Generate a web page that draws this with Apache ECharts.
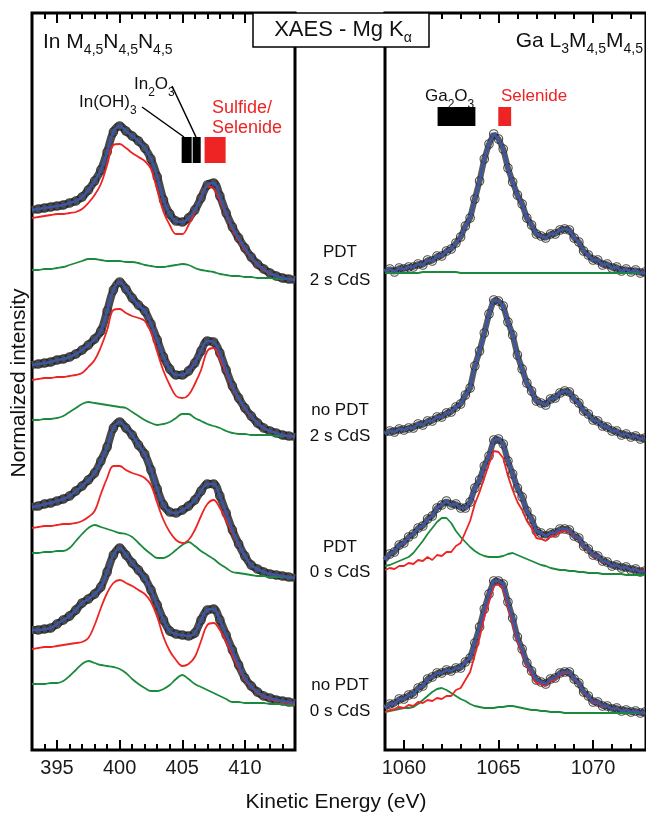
<!DOCTYPE html>
<html><head><meta charset="utf-8">
<script src="https://cdn.jsdelivr.net/npm/echarts@6/dist/echarts.min.js"></script>
<style>html,body{margin:0;padding:0;background:#fff}#c{width:646px;height:815px}</style>
</head><body><div id="c"></div>
<script>
// ---------- In M4,5N4,5N4,5 panel (kinetic energy, eV) ----------
const energyIn = [393,393.5,394,394.5,395,395.5,396,396.5,397,397.5,398,398.5,399,399.5,400,400.5,401,401.5,402,402.5,403,403.5,404,404.5,405,405.5,406,406.5,407,407.5,408,408.5,409,409.5,410,410.5,411,411.5,412,412.5,413,413.5,414];
// sample 1: PDT, 2 s CdS
const in1Data  = [70,71,72,73,74,75,77,79,83,90,99,110,128,148,154,149,144,139,132,121,103,80,66,59,58,62,70,82,95,97,84,67,53,42,32,23,16,11,7,4,2,1,0];
const in1Sel   = [62,63,64,65,66,66,67,68,71,77,85,96,115,135,136,132,127,123,119,111,90,68,55,46,46,55,68,84,94,91,80,65,51,40,30,22,15,10,6,4,2,1,0];
const in1Oxi   = [10,10,11,11,12,13,15,17,19,21,21,20,19,19,19,18,18,17,15,14,13,13,14,15,16,15,12,10,9,8,6,5,4,4,3,3,2,2,2,1,1,1,1];
// sample 2: no PDT, 2 s CdS
const in2Data  = [72,73,74,75,77,78,80,83,87,92,98,106,126,147,155,148,139,132,126,113,97,80,68,62,62,66,74,86,96,95,84,67,51,39,29,21,14,9,6,4,2,1,0];
const in2Sel   = [57,58,59,59,60,60,61,62,64,70,77,90,107,127,128,124,121,119,116,105,85,66,52,41,39,42,53,67,86,89,78,64,49,38,28,20,14,9,6,4,2,1,0];
const in2Oxi   = [17,17,18,18,19,21,25,29,33,35,34,33,32,31,30,29,25,21,17,14,12,13,15,19,23,23,19,16,13,11,9,6,4,3,3,2,2,2,2,1,1,1,1];
// sample 3: PDT, 0 s CdS
const in3Data  = [71,72,74,75,77,79,82,87,92,98,105,117,131,150,156,150,143,133,124,108,89,73,66,65,68,72,78,87,94,94,82,65,48,34,22,13,9,6,4,3,2,1,0];
const in3Sel   = [50,51,52,52,53,54,54,55,57,61,67,84,100,112,112,108,105,103,100,93,75,58,46,38,35,38,48,62,74,78,70,58,45,33,22,13,9,6,4,3,2,1,0];
const in3Oxi   = [25,25,26,26,27,27,30,37,44,50,53,51,49,47,45,44,41,35,29,24,20,20,23,28,33,36,32,27,23,19,14,10,6,5,4,3,2,2,1,1,1,0,0];
// sample 4: no PDT, 0 s CdS
const in4Data  = [75,75,76,77,81,85,89,95,102,106,111,118,133,150,157,150,142,135,127,115,100,85,74,71,70,69,72,85,95,96,85,70,55,40,27,19,13,9,7,5,4,3,2];
const in4Sel   = [56,57,58,58,59,60,61,62,63,67,80,97,112,122,125,122,119,115,111,103,88,68,54,45,39,41,48,64,80,82,75,63,50,37,25,18,12,8,6,4,3,2,1];
const in4Oxi   = [21,21,21,22,22,24,29,35,41,44,42,40,39,38,36,32,26,21,17,14,14,16,20,26,30,26,21,18,15,12,9,6,3,3,2,2,2,2,1,1,1,0,0];
const inOffsets = [470, 313, 172, 45];

// ---------- Ga L3M4,5M4,5 panel ----------
const energyGa = [1059,1059.25,1059.5,1059.75,1060,1060.25,1060.5,1060.75,1061,1061.25,1061.5,1061.75,1062,1062.25,1062.5,1062.75,1063,1063.25,1063.5,1063.75,1064,1064.25,1064.5,1064.75,1065,1065.25,1065.5,1065.75,1066,1066.25,1066.5,1066.75,1067,1067.25,1067.5,1067.75,1068,1068.25,1068.5,1068.75,1069,1069.25,1069.5,1069.75,1070,1070.25,1070.5,1070.75,1071,1071.25,1071.5,1071.75,1072,1072.25,1072.5,1072.75];
const ga1Data = [2,5,2,6,5,7,7,10,9,14,13,18,18,23,25,31,37,48,56,75,93,115,130,140,135,125,106,92,79,70,56,49,40,38,36,40,40,44,45,44,36,32,23,19,14,14,9,10,6,7,3,5,2,4,1,2];
const ga1Oxi  = [1,1,1,1,1,1,1,1,2,2,2,2,2,2,2,2,1,1,1,1,1,1,1,1,1,1,1,1,1,1,1,1,1,1,1,1,1,1,1,1,1,1,1,1,1,1,1,1,1,1,1,1,1,1,1,1];
const ga2Data = [6,9,8,11,10,12,12,16,15,19,19,23,23,27,28,33,36,45,52,74,89,107,126,140,139,134,118,105,85,71,57,49,39,37,35,41,42,47,49,48,41,37,29,26,20,19,14,13,9,9,5,6,3,4,1,2];
const ga3Data = [15,21,23,30,32,38,41,47,49,56,59,67,70,74,70,71,67,67,73,87,95,109,119,135,136,131,114,101,87,78,64,56,44,42,39,42,42,46,46,45,39,37,29,26,20,19,14,13,9,10,7,8,5,6,3,4];
const ga3Sel  = [5,7,6,9,9,12,11,15,14,18,15,20,19,23,23,29,32,43,54,71,83,97,111,124,123,117,99,85,73,65,54,47,37,36,34,39,39,43,44,43,38,36,28,25,19,18,13,13,9,10,7,8,5,6,4,5];
const ga3Oxi  = [9,10,12,14,16,18,22,28,34,41,47,53,57,57,52,44,38,33,28,24,21,19,18,18,18,19,21,22,20,18,16,14,12,10,9,7,6,5,5,4,4,3,3,2,2,2,1,1,1,1,1,0,0,0,0,0];
const ga4Data = [6,10,10,15,15,19,20,26,28,35,37,41,41,44,43,46,46,52,56,71,87,105,120,133,133,130,112,96,77,65,51,43,34,32,30,35,36,41,42,42,35,31,22,18,12,12,8,8,5,6,3,4,2,3,1,2];
const ga4Sel  = [2,4,4,7,6,9,8,12,11,14,13,16,15,18,18,24,26,34,42,59,76,97,112,128,130,125,107,91,73,61,48,40,31,30,28,33,34,39,41,41,34,30,21,17,11,11,7,8,5,6,3,4,2,3,1,2];
const ga4Oxi  = [2,3,4,5,6,6,7,10,14,18,22,25,26,24,21,18,15,13,10,8,7,6,6,6,7,7,8,8,7,6,5,4,4,3,3,2,2,2,1,1,1,1,1,1,1,1,1,1,1,1,1,1,1,1,1,1];
const gaOffsets = [476, 310, 175, 36];

// reference positions (eV)
const inRefs = [
  {name: 'In(OH)3', lo: 404.95, hi: 405.75, kind: 'oxide'},
  {name: 'In2O3', lo: 405.83, hi: 406.47, kind: 'oxide'},
  {name: 'Sulfide/Selenide', lo: 406.78, hi: 408.46, kind: 'sel'}
];
const gaRefs = [
  {name: 'Ga2O3', lo: 1061.78, hi: 1063.78, kind: 'oxide'},
  {name: 'Selenide', lo: 1064.99, hi: 1065.67, kind: 'sel'}
];

const inMajorTicks = [395, 400, 405, 410];
const inMinorTicks = [394,395,396,397,398,399,400,401,402,403,404,405,406,407,408,409,410,411,412,413];
const gaMajorTicks = [1060, 1065, 1070];
const gaMinorTicks = [1060,1061,1062,1063,1064,1065,1066,1067,1068,1069,1070,1071,1072];

const sampleLabels = [['PDT','2 s CdS'], ['no PDT','2 s CdS'], ['PDT','0 s CdS'], ['no PDT','0 s CdS']];

// ---------- build ----------
const FONT = '"Liberation Sans", Arial, Helvetica, sans-serif';
const C_DATA = '#1e1e1e', C_FIT = '#3c56a6', C_SEL = '#ee2424', C_OXI = '#1c8a3c';
const X_RANGE = [[393, 414], [1059, 1072.8]];

function pts(xs, ys, off) { return xs.map((x, i) => [x, ys[i] + off]); }

const series = [];
function addSpectrum(g, xs, data, sel, oxi, off, smooth) {
  const ax = g * 4;
  const r = X_RANGE[g];
  // band formed by the densely overlapping open circles of the measurement
  series.push({type: 'line', xAxisIndex: ax, yAxisIndex: g, data: pts(xs, data, off), showSymbol: false, smooth: smooth, z: 1,
    lineStyle: {color: g === 0 ? '#4a4a4a' : '#5a5a5a', width: g === 0 ? 8 : 6}});
  // open circles (points lying on the frame edge are clipped away as in the original)
  series.push({type: 'scatter', xAxisIndex: ax, yAxisIndex: g,
    data: pts(xs, data, off).filter(p => p[0] > r[0] && p[0] < r[1]),
    symbol: 'circle', symbolSize: 8.5, z: 2,
    itemStyle: {color: 'rgba(0,0,0,0)', borderColor: C_DATA, borderWidth: 1.1}});
  if (oxi) series.push({type: 'line', xAxisIndex: ax, yAxisIndex: g, data: pts(xs, oxi, off), showSymbol: false, smooth: smooth, z: 3,
    lineStyle: {color: C_OXI, width: 1.8}});
  if (sel) series.push({type: 'line', xAxisIndex: ax, yAxisIndex: g, data: pts(xs, sel, off), showSymbol: false, smooth: smooth, z: 4,
    lineStyle: {color: C_SEL, width: 1.8}});
  series.push({type: 'line', xAxisIndex: ax, yAxisIndex: g, data: pts(xs, data, off), showSymbol: false, smooth: smooth, z: 5,
    lineStyle: {color: C_FIT, width: 2.6}});
}
addSpectrum(0, energyIn, in1Data, in1Sel, in1Oxi, inOffsets[0], 0.4);
addSpectrum(0, energyIn, in2Data, in2Sel, in2Oxi, inOffsets[1], 0.4);
addSpectrum(0, energyIn, in3Data, in3Sel, in3Oxi, inOffsets[2], 0.4);
addSpectrum(0, energyIn, in4Data, in4Sel, in4Oxi, inOffsets[3], 0.4);
addSpectrum(1, energyGa, ga1Data, null, ga1Oxi, gaOffsets[0], false);
addSpectrum(1, energyGa, ga2Data, null, null, gaOffsets[1], false);
addSpectrum(1, energyGa, ga3Data, ga3Sel, ga3Oxi, gaOffsets[2], false);
addSpectrum(1, energyGa, ga4Data, ga4Sel, ga4Oxi, gaOffsets[3], false);

function refArea(refs, yLo, yHi) {
  return refs.map(r => [
    {xAxis: r.lo, yAxis: yLo, itemStyle: {color: r.kind === 'sel' ? C_SEL : '#000', opacity: 1, borderWidth: 0}},
    {xAxis: r.hi, yAxis: yHi}
  ]);
}
series.push({type: 'line', xAxisIndex: 0, yAxisIndex: 0, data: [], z: 6,
  markArea: {silent: true, data: refArea(inRefs, 587, 613)}});
series.push({type: 'line', xAxisIndex: 4, yAxisIndex: 1, data: [], z: 6,
  markArea: {silent: true, data: refArea(gaRefs, 624, 643)}});

function xAxes(g, major, minor) {
  const base = {gridIndex: g, type: 'value', min: X_RANGE[g][0], max: X_RANGE[g][1], splitLine: {show: false}, axisLine: {show: false}};
  const tickStyle = {color: '#000', width: 2};
  return [
    Object.assign({}, base, {position: 'bottom',
      axisTick: {show: true, inside: true, length: 10, lineStyle: tickStyle, customValues: major},
      axisLabel: {show: true, customValues: major, fontSize: 20, color: '#1a1a1a', fontFamily: FONT, margin: 8,
        formatter: v => String(v)}}),
    Object.assign({}, base, {position: 'bottom',
      axisTick: {show: true, inside: true, length: 6, lineStyle: tickStyle, customValues: minor},
      axisLabel: {show: false}}),
    Object.assign({}, base, {position: 'top',
      axisTick: {show: true, inside: true, length: 10, lineStyle: tickStyle, customValues: major},
      axisLabel: {show: false}}),
    Object.assign({}, base, {position: 'top',
      axisTick: {show: true, inside: true, length: 6, lineStyle: tickStyle, customValues: minor},
      axisLabel: {show: false}})
  ];
}

const sub = (fs) => ({fontSize: fs, fontFamily: FONT, fill: '#111', lineHeight: 14, verticalAlign: 'bottom'});
const main = (fs, col) => ({fontSize: fs, fontFamily: FONT, fill: col || '#111', lineHeight: 30});

function txt(x, y, text, fs, align, col, extra) {
  return Object.assign({type: 'text', x: x, y: y, z: 120,
    style: {text: text, fontSize: fs, fontFamily: FONT, fill: col || '#111', align: align || 'center', verticalAlign: 'middle'}}, extra || {});
}
function rtxt(x, y, text, fs, subFs, align, col) {
  return {type: 'text', x: x, y: y, z: 120,
    style: {text: text, align: align || 'left', verticalAlign: 'middle',
      rich: {m: main(fs, col), s: Object.assign(sub(subFs), col ? {fill: col} : {})}}};
}

const graphics = [
  {type: 'rect', z: 110, shape: {x: 253, y: 13, width: 176, height: 34}, style: {fill: '#fff', stroke: '#000', lineWidth: 1.5}},
  rtxt(343, 30, '{m|XAES - Mg K}{s|α}', 22, 14, 'center'),
  rtxt(43, 42, '{m|In M}{s|4,5}{m|N}{s|4,5}{m|N}{s|4,5}', 21, 14, 'left'),
  rtxt(643, 41, '{m|Ga L}{s|3}{m|M}{s|4,5}{m|M}{s|4,5}', 21, 14, 'right'),
  rtxt(79, 102, '{m|In(OH)}{s|3}', 17, 12, 'left'),
  rtxt(134, 84, '{m|In}{s|2}{m|O}{s|3}', 17, 12, 'left'),
  {type: 'line', z: 120, shape: {x1: 142, y1: 107, x2: 184, y2: 137}, style: {stroke: '#000', lineWidth: 1.5}},
  {type: 'line', z: 120, shape: {x1: 172, y1: 86, x2: 196, y2: 137}, style: {stroke: '#000', lineWidth: 1.5}},
  txt(212, 108, 'Sulfide/', 18, 'left', C_SEL),
  txt(212, 128, 'Selenide', 18, 'left', C_SEL),
  rtxt(425, 96, '{m|Ga}{s|2}{m|O}{s|3}', 17, 12, 'left'),
  txt(501, 96, 'Selenide', 17, 'left', C_SEL),
  txt(336, 802, 'Kinetic Energy (eV)', 21, 'center'),
  txt(19, 383, 'Normalized intensity', 21, 'center', '#111', {rotation: Math.PI / 2})
];
const labelY = [[252, 280], [410, 436], [547, 572], [685, 711]];
sampleLabels.forEach((pair, i) => {
  graphics.push(txt(340, labelY[i][0], pair[0], 17, 'center'));
  graphics.push(txt(340, labelY[i][1], pair[1], 17, 'center'));
});

const chart = echarts.init(document.getElementById('c'), null, {renderer: 'canvas'});
chart.setOption({
  animation: false,
  backgroundColor: '#fff',
  grid: [
    {left: 32, top: 13, width: 263, height: 737, show: true, borderColor: '#000', borderWidth: 3, backgroundColor: 'rgba(0,0,0,0)'},
    {left: 385, top: 13, width: 263, height: 737, show: true, borderColor: '#000', borderWidth: 3, backgroundColor: 'rgba(0,0,0,0)'}
  ],
  xAxis: [].concat(xAxes(0, inMajorTicks, inMinorTicks), xAxes(1, gaMajorTicks, gaMinorTicks)),
  yAxis: [
    {gridIndex: 0, type: 'value', min: 0, max: 737, show: false},
    {gridIndex: 1, type: 'value', min: 0, max: 737, show: false}
  ],
  series: series,
  graphic: graphics
});
</script>
</body></html>
